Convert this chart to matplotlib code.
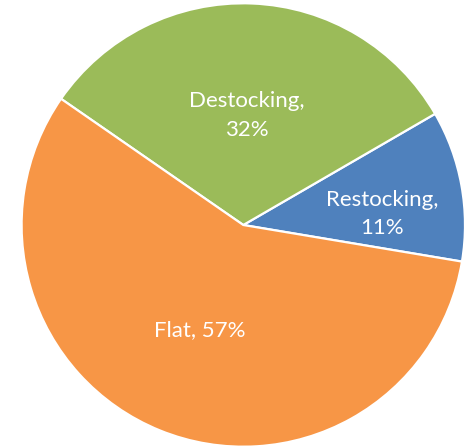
import matplotlib
matplotlib.use("Agg")
import matplotlib.pyplot as plt

# inventory cycle shares
labels = ["Restocking", "Destocking", "Flat"]
shares = [11, 32, 57]
colors = ["#4F81BD", "#9BBB59", "#F79646"]

# label text and placement (data units, radius = 1)
label_text = ["Restocking,\n11%", "Destocking,\n32%", "Flat, 57%"]
label_pos = [(0.625, 0.05), (0.015, 0.495), (-0.195, -0.475)]

plt.rcParams["font.family"] = ["Lato", "DejaVu Sans"]

fig = plt.figure(figsize=(4.67, 4.46), dpi=100)
ax = fig.add_axes([0, 0, 1, 1])

wedges, _ = ax.pie(shares, colors=colors, startangle=-9.5, counterclock=True,
                   radius=1.0, wedgeprops=dict(edgecolor="white", linewidth=1.6))

for txt, (x, y) in zip(label_text, label_pos):
    ax.text(x, y, txt, ha="center", va="center", color="white",
            fontsize=16, linespacing=1.55)

# pie centre sits at (243, 225) px, radius ~222 px
r_px = 221.7
cx, cy = 243.3, 225.0
ax.set_xlim(-cx / r_px, (467 - cx) / r_px)
ax.set_ylim(-(446 - cy) / r_px, cy / r_px)
ax.set_aspect("auto")
ax.axis("off")

fig.savefig("out.png", dpi=100, facecolor="white")
